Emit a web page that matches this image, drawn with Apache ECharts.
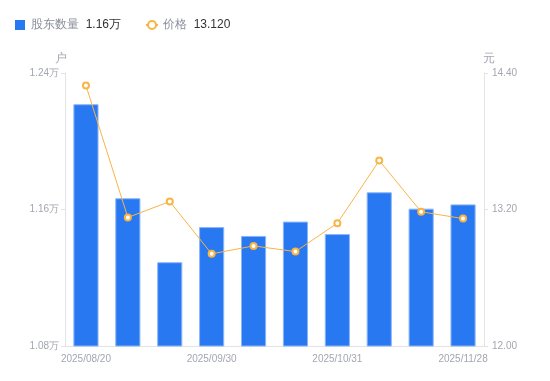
<!DOCTYPE html>
<html><head><meta charset="utf-8">
<script src="https://cdn.jsdelivr.net/npm/echarts@6/dist/echarts.min.js"></script>
<style>html,body{margin:0;padding:0;background:#fff}#c{width:550px;height:381px}</style>
</head><body><div id="c"></div>
<script>
const categories = ['2025/08/20','2025/08/29','2025/09/10','2025/09/30','2025/10/10','2025/10/20','2025/10/31','2025/11/10','2025/11/20','2025/11/28'];
const holders = [12217, 11666, 11291, 11497, 11445, 11529, 11456, 11701, 11605, 11630];
const prices = [14.29, 13.13, 13.27, 12.81, 12.88, 12.83, 13.08, 13.63, 13.18, 13.12];
const leftTicks = { min: 10800, max: 12400, interval: 800 };
const rightTicks = { min: 12.0, max: 14.4, interval: 1.2 };

const chart = echarts.init(document.getElementById('c'));
const lastH = (holders[holders.length-1]/10000).toFixed(2) + '万';
const lastP = prices[prices.length-1].toFixed(3);
chart.setOption({
  animation: false,
  legend: {
    left: 10, top: 14,
    itemGap: 24,
    itemWidth: 12, itemHeight: 10,
    data: [{name:'股东数量', icon:'path://M0,0H10V10H0Z', itemStyle:{ borderWidth: 0 }}, {name:'价格'}],
    formatter: function(n){ return '{a|' + n + '}  {b|' + (n === '股东数量' ? lastH : lastP) + '}'; },
    textStyle: { rich: { a: { color: '#8a8e99', fontSize: 12 }, b: { color: '#333', fontSize: 12 } } }
  },
  grid: { left: 65, right: 66, top: 73, bottom: 35 },
  xAxis: {
    type: 'category', data: categories,
    axisLine: { lineStyle: { color: '#e3e3e3' } },
    axisTick: { show: false },
    axisLabel: { color: '#a3a6b0', fontSize: 10, interval: 2, margin: 8 }
  },
  yAxis: [{
    type: 'value', name: '户', min: leftTicks.min, max: leftTicks.max, interval: leftTicks.interval,
    nameTextStyle: { color: '#a3a6b0', fontSize: 12, padding: [0, 8, 0, 0] },
    nameGap: 8,
    axisLine: { show: true, lineStyle: { color: '#e3e3e3' } },
    axisTick: { show: true, length: 4, lineStyle: { color: '#e3e3e3' } },
    splitLine: { show: false },
    axisLabel: { color: '#a3a6b0', fontSize: 10, margin: 6, formatter: v => (v/10000).toFixed(2) + '万' }
  }, {
    type: 'value', name: '元', min: rightTicks.min, max: rightTicks.max, interval: rightTicks.interval,
    nameTextStyle: { color: '#a3a6b0', fontSize: 12, padding: [0, 0, 0, 10] },
    nameGap: 8,
    axisLine: { show: true, lineStyle: { color: '#e3e3e3' } },
    axisTick: { show: true, length: 4, lineStyle: { color: '#e3e3e3' } },
    splitLine: { show: false },
    axisLabel: { color: '#a3a6b0', fontSize: 10, margin: 8, formatter: v => v.toFixed(2) }
  }],
  series: [{
    name: '股东数量', type: 'bar', data: holders, barWidth: '60%',
    itemStyle: { color: '#2878f2', borderColor: '#8ab6f8', borderWidth: 1 }
  }, {
    name: '价格', type: 'line', yAxisIndex: 1, data: prices,
    symbol: 'emptyCircle', symbolSize: 6,
    lineStyle: { color: '#f8b445', width: 1 },
    itemStyle: { color: '#f8b445', borderWidth: 2 }
  }]
});
</script></body></html>
